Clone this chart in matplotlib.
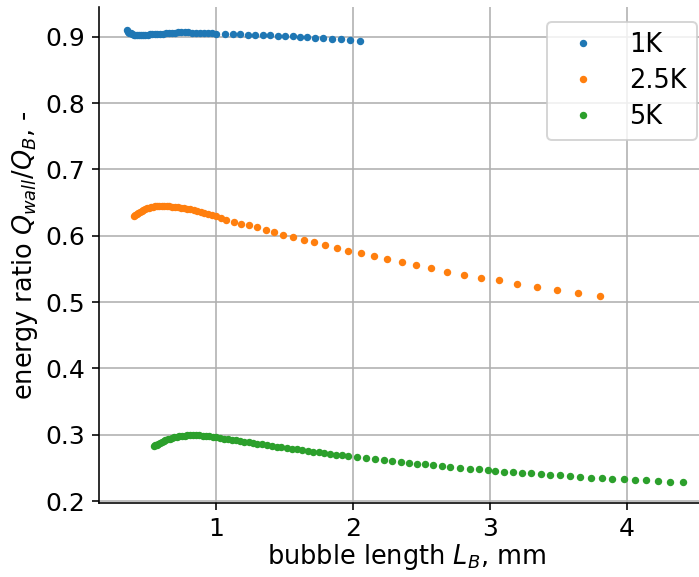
import matplotlib
matplotlib.use("Agg")
import matplotlib.pyplot as plt

# ---- data ----
x_1K = [0.350, 0.358, 0.367, 0.377, 0.388, 0.400, 0.412, 0.425, 0.439, 0.453,
        0.468, 0.484, 0.500, 0.517, 0.535, 0.553, 0.572, 0.592, 0.612, 0.633,
        0.655, 0.677, 0.700, 0.724, 0.748, 0.773, 0.799, 0.825, 0.852, 0.880,
        0.909, 0.939, 0.970, 1.002, 1.066, 1.122, 1.175, 1.236, 1.285, 1.343,
        1.394, 1.451, 1.504, 1.560, 1.614, 1.665, 1.723, 1.782, 1.845, 1.911,
        1.979, 2.052]
y_1K = [0.9100, 0.9080, 0.9065, 0.9052, 0.9042, 0.9035, 0.9030, 0.9028, 0.9027, 0.9028,
        0.9030, 0.9032, 0.9035, 0.9037, 0.9040, 0.9042, 0.9045, 0.9047, 0.9050, 0.9052,
        0.9055, 0.9058, 0.9062, 0.9066, 0.9070, 0.9072, 0.9068, 0.9063, 0.9060, 0.9058,
        0.9056, 0.9054, 0.9052, 0.9048, 0.9045, 0.9042, 0.9038, 0.9034, 0.9030, 0.9026,
        0.9022, 0.9017, 0.9012, 0.9006, 0.9000, 0.8994, 0.8987, 0.8980, 0.8972, 0.8964,
        0.8955, 0.8944]

x_2_5K = [0.403, 0.412, 0.422, 0.433, 0.444, 0.456, 0.468, 0.481, 0.494, 0.508,
          0.522, 0.537, 0.552, 0.568, 0.585, 0.602, 0.620, 0.639, 0.658, 0.678,
          0.699, 0.720, 0.742, 0.765, 0.788, 0.812, 0.837, 0.862, 0.888, 0.915,
          0.943, 0.972, 1.002, 1.033, 1.073, 1.129, 1.185, 1.241, 1.299, 1.363,
          1.424, 1.492, 1.562, 1.641, 1.718, 1.796, 1.881, 1.964, 2.059, 2.152,
          2.249, 2.356, 2.463, 2.571, 2.690, 2.814, 2.936, 3.067, 3.201, 3.343,
          3.493, 3.644, 3.803]
y_2_5K = [0.6305, 0.6318, 0.6332, 0.6346, 0.6360, 0.6374, 0.6388, 0.6401, 0.6413, 0.6424,
          0.6432, 0.6438, 0.6442, 0.6444, 0.6445, 0.6445, 0.6445, 0.6444, 0.6442, 0.6439,
          0.6435, 0.6430, 0.6424, 0.6417, 0.6409, 0.6400, 0.6389, 0.6377, 0.6364, 0.6349,
          0.6333, 0.6316, 0.6296, 0.6272, 0.6240, 0.6214, 0.6184, 0.6160, 0.6130, 0.6089,
          0.6054, 0.6018, 0.5979, 0.5938, 0.5903, 0.5863, 0.5818, 0.5777, 0.5737, 0.5692,
          0.5647, 0.5602, 0.5556, 0.5511, 0.5460, 0.5415, 0.5370, 0.5330, 0.5279, 0.5234,
          0.5189, 0.5143, 0.5098]

x_5K = [0.545, 0.555, 0.566, 0.578, 0.590, 0.603, 0.617, 0.631, 0.646, 0.662,
        0.678, 0.695, 0.713, 0.731, 0.750, 0.770, 0.790, 0.811, 0.833, 0.855,
        0.878, 0.902, 0.926, 0.951, 0.977, 1.003, 1.030, 1.058, 1.086, 1.115,
        1.145, 1.175, 1.206, 1.238, 1.270, 1.303, 1.337, 1.371, 1.406, 1.442,
        1.478, 1.515, 1.553, 1.591, 1.630, 1.670, 1.710, 1.751, 1.792, 1.834,
        1.876, 1.918, 1.962, 2.029, 2.096, 2.162, 2.229, 2.287, 2.348, 2.409,
        2.468, 2.526, 2.587, 2.648, 2.706, 2.785, 2.852, 2.918, 2.985, 3.037,
        3.104, 3.170, 3.237, 3.303, 3.374, 3.443, 3.515, 3.587, 3.661, 3.740,
        3.820, 3.894, 3.979, 4.058, 4.143, 4.231, 4.318, 4.409]
y_5K = [0.2825, 0.2838, 0.2852, 0.2866, 0.2880, 0.2893, 0.2906, 0.2918, 0.2930, 0.2942,
        0.2952, 0.2961, 0.2968, 0.2975, 0.2980, 0.2985, 0.2988, 0.2990, 0.2991, 0.2990,
        0.2988, 0.2984, 0.2979, 0.2973, 0.2966, 0.2958, 0.2950, 0.2942, 0.2934, 0.2925,
        0.2915, 0.2906, 0.2896, 0.2886, 0.2876, 0.2865, 0.2854, 0.2843, 0.2832, 0.2821,
        0.2810, 0.2799, 0.2788, 0.2777, 0.2766, 0.2755, 0.2744, 0.2733, 0.2722, 0.2711,
        0.2700, 0.2690, 0.2677, 0.2660, 0.2645, 0.2630, 0.2615, 0.2600, 0.2590, 0.2580,
        0.2565, 0.2555, 0.2545, 0.2534, 0.2519, 0.2504, 0.2489, 0.2479, 0.2469, 0.2459,
        0.2444, 0.2434, 0.2429, 0.2419, 0.2409, 0.2398, 0.2389, 0.2374, 0.2363, 0.2353,
        0.2344, 0.2338, 0.2329, 0.2323, 0.2313, 0.2303, 0.2293, 0.2288]

labels = ["1K", "2.5K", "5K"]
xticks = [1, 2, 3, 4]
yticks = [0.2, 0.3, 0.4, 0.5, 0.6, 0.7, 0.8, 0.9]

# ---- figure ----
W, H, DPI = 699, 577, 144
fig = plt.figure(figsize=(W / DPI, H / DPI), dpi=DPI)
left_px, right_px, top_px, bottom_px = 99, 713.5, 7, 503
ax = fig.add_axes([left_px / W, (H - bottom_px) / H,
                   (right_px - left_px) / W, (bottom_px - top_px) / H])

ms = 5.4
ax.plot(x_1K, y_1K, '.', color='#1f77b4', ms=ms, label=labels[0])
ax.plot(x_2_5K, y_2_5K, '.', color='#ff7f0e', ms=ms, label=labels[1])
ax.plot(x_5K, y_5K, '.', color='#2ca02c', ms=ms, label=labels[2])

ax.set_xlim(0.1454, 4.634)
ax.set_ylim(0.197, 0.945)
ax.set_xticks(xticks)
ax.set_yticks(yticks)
ax.set_xticklabels([str(t) for t in xticks])
ax.set_yticklabels([f"{t:.1f}" for t in yticks])
ax.tick_params(labelsize=12.5)
ax.grid(True)
ax.spines['top'].set_visible(False)
ax.spines['right'].set_visible(False)

ax.set_xlabel(r"bubble length $L_B$, mm", fontsize=12.8, labelpad=0.5)
ax.set_ylabel(r"energy ratio $Q_{wall}/Q_B$, -", fontsize=12.8, labelpad=2.5)

ax.legend(loc='upper right', bbox_to_anchor=(697 / W, 1 - 22 / H),
          bbox_transform=fig.transFigure, borderaxespad=0, fontsize=12.8,
          labelspacing=0.38)

fig.savefig("out.png", dpi=DPI)
